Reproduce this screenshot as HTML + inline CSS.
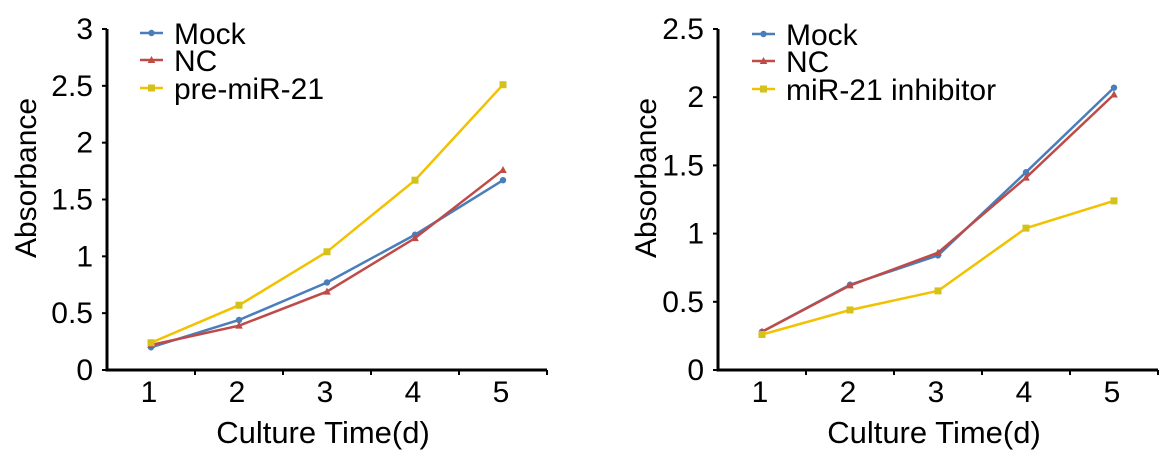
<!DOCTYPE html>
<html><head><meta charset="utf-8"><style>
body{margin:0;background:#fff;}
svg text{font-family:"Liberation Sans",Arial,sans-serif;fill:#000;}
</style></head><body>
<svg id="svg" width="1171" height="460" xmlns="http://www.w3.org/2000/svg"></svg>
<script>
const categories=[1,2,3,4,5];
const leftMock=[0.20,0.44,0.77,1.19,1.67];
const leftNC=[0.22,0.39,0.69,1.16,1.76];
const leftPre=[0.24,0.57,1.04,1.67,2.51];
const leftTicks=["0","0.5","1","1.5","2","2.5","3"];
const leftNames=["Mock","NC","pre-miR-21"];
const rightMock=[0.28,0.625,0.84,1.45,2.07];
const rightNC=[0.28,0.62,0.86,1.41,2.02];
const rightInh=[0.26,0.44,0.58,1.04,1.24];
const rightTicks=["0","0.5","1","1.5","2","2.5"];
const rightNames=["Mock","NC","miR-21 inhibitor"];

const NS="http://www.w3.org/2000/svg";
const svg=document.getElementById('svg');
function mk(tag,attrs,parent){const e=document.createElementNS(NS,tag);for(const k in attrs)e.setAttribute(k,attrs[k]);(parent||svg).appendChild(e);return e;}
const colors=["#4a7ebb","#be4b48","#f2c200"];
const mcol=["#4a7ebb","#be4b48","#d4c21a"];

function chart(cfg){
  const g=mk('g',{});
  
  
  const x0=cfg.axisX, y0=370, yTop=29, step=88, ymax=cfg.ymax;
  const xs=i=>x0+44+step*(categories[i]-1);
  const ys=v=>y0-(y0-yTop)*v/ymax;
  const ya=mk('line',{x1:x0,y1:yTop,x2:x0,y2:y0+1,stroke:'#000','stroke-width':3},g);
  
  const xa=mk('line',{x1:x0-1.5,y1:y0,x2:x0+step*5,y2:y0,stroke:'#000','stroke-width':3},g);
  
  cfg.ticks.forEach((t,i)=>{
    const v=i*0.5,y=ys(v);
    mk('line',{x1:x0-5,y1:y,x2:x0,y2:y,stroke:'#000','stroke-width':2},g);
    const tx=mk('text',{x:x0-14,y:y+10,'font-size':30,'text-anchor':'end'},g);
    tx.textContent=t;
    
  });
  for(let i=1;i<=5;i++){mk('line',{x1:x0+step*i,y1:y0,x2:x0+step*i,y2:y0+5,stroke:'#000','stroke-width':2},g);}
  categories.forEach((c,i)=>{
    const tx=mk('text',{x:xs(i)-2,y:y0+32,'font-size':30,'text-anchor':'middle'},g);
    tx.textContent=c;
    
  });
  const xt=mk('text',{x:x0+step*2.5-4,y:443,'font-size':31,'text-anchor':'middle'},g);
  xt.textContent='Culture Time(d)';
  
  const yt=mk('text',{x:0,y:0,'font-size':30,'text-anchor':'middle',transform:`translate(${cfg.titleX},178) rotate(-90)`},g);
  yt.textContent='Absorbance';
  
  cfg.series.forEach((s,k)=>{
    const pts=s.map((v,i)=>xs(i)+','+ys(v)).join(' ');
    const pl=mk('polyline',{points:pts,fill:'none',stroke:colors[k],'stroke-width':2.5},g);
    
    
    s.forEach((v,i)=>{
      const cx=xs(i),cy=ys(v);let m;
      if(k==0)m=mk('circle',{cx:cx,cy:cy,r:3.2,fill:mcol[k]},g);
      else if(k==1)m=mk('polygon',{points:`${cx},${cy-4} ${cx-3.8},${cy+3} ${cx+3.8},${cy+3}`,fill:mcol[k]},g);
      else m=mk('rect',{x:cx-3.5,y:cy-3.5,width:7,height:7,fill:mcol[k]},g);
      
      
    });
    const ly=cfg.legY[k];
    const lg=mk('g',{},g);
    
    
    mk('line',{x1:cfg.legX,y1:ly,x2:cfg.legX+23,y2:ly,stroke:colors[k],'stroke-width':2.5},lg);
    const mx=cfg.legX+11.5;
    if(k==0)mk('circle',{cx:mx,cy:ly,r:3.2,fill:mcol[k]},lg);
    else if(k==1)mk('polygon',{points:`${mx},${ly-4} ${mx-3.8},${ly+3} ${mx+3.8},${ly+3}`,fill:mcol[k]},lg);
    else mk('rect',{x:mx-3.5,y:ly-3.5,width:7,height:7,fill:mcol[k]},lg);
    const lt=mk('text',{x:cfg.legX+34,y:ly+11,'font-size':30},lg);
    lt.textContent=cfg.names[k];
  });
}
chart({name:'left-chart',axisX:107,ymax:3,ticks:leftTicks,series:[leftMock,leftNC,leftPre],names:leftNames,legX:140,legY:[33,60,88],titleX:36});
chart({name:'right-chart',axisX:718,ymax:2.5,ticks:rightTicks,series:[rightMock,rightNC,rightInh],names:rightNames,legX:752,legY:[34,61,89],titleX:656});
</script>
</body></html>
